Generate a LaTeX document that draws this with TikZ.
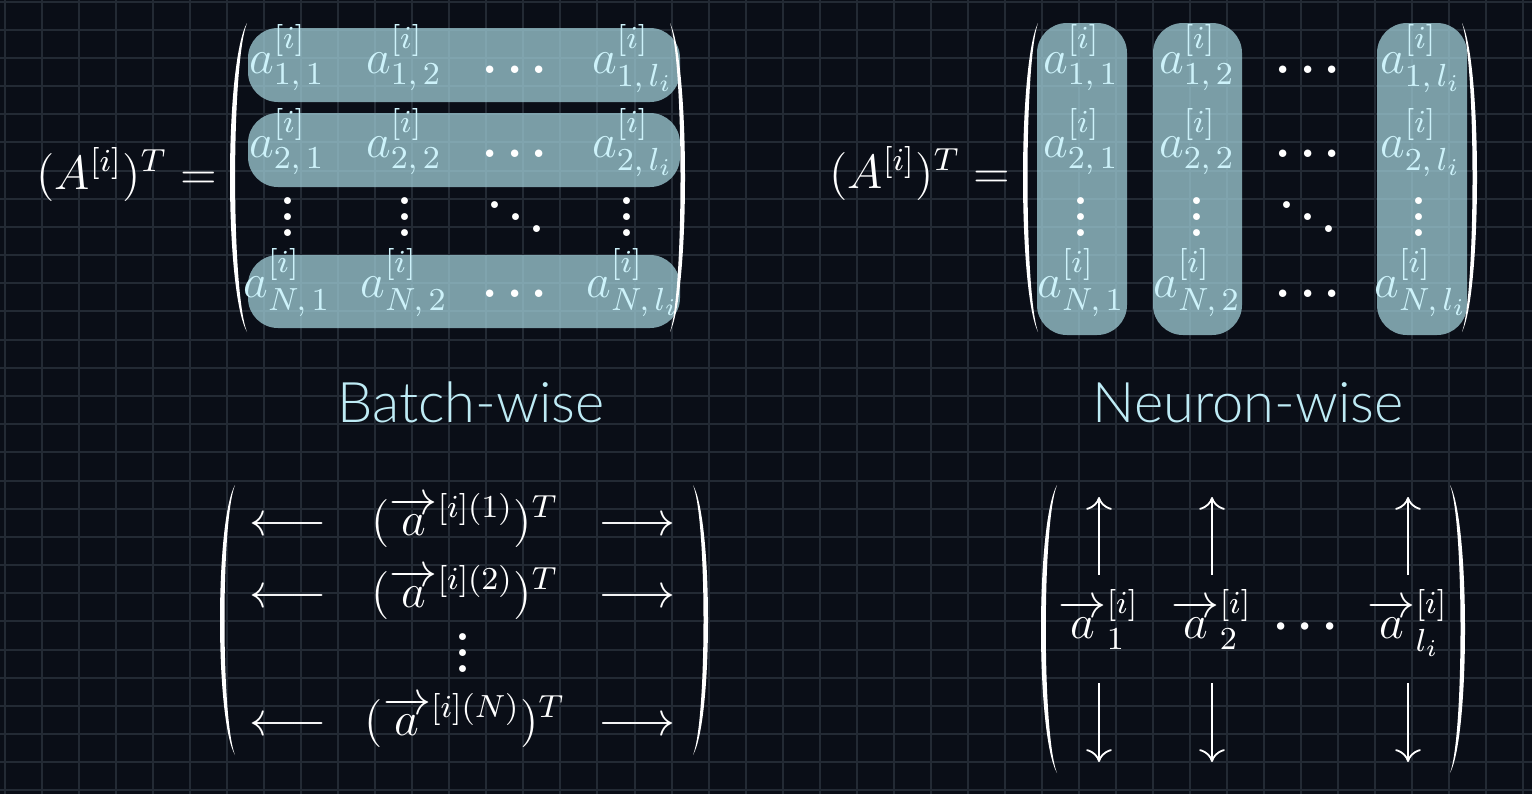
\documentclass[tikz,border=0pt]{standalone}
\usepackage{amsmath, fontspec}
\newfontfamily\labelfont{Lato Light}
\usetikzlibrary{arrows.meta}
\definecolor{bgcol}{RGB}{10,14,23}
\definecolor{gridcol}{RGB}{35,42,52}
\definecolor{bandcol}{RGB}{160,205,215}
\definecolor{entrycol}{RGB}{205,242,250}
\definecolor{labelcol}{RGB}{190,235,245}
\tikzset{>={Computer Modern Rightarrow[length=3.2pt, width=6.4pt]}}
\tikzset{
  gridline/.style={draw=gridcol, line width=0.5pt},
  math/.style={text=white, inner sep=0pt, font=\fontsize{12}{14}\selectfont},
  entry/.style={math, text=entrycol, anchor=base},
  dotrow/.style={math, anchor=base, font=\fontsize{12}{14}\selectfont\bfseries\boldmath},
  band/.style={fill=bandcol, fill opacity=0.75, rounded corners=7.5pt},
  caption/.style={text=labelcol, inner sep=0pt, anchor=base, font=\labelfont\fontsize{14}{16}\selectfont},
  colarrow/.style={->, white, line width=0.45pt},
}
% #1 end x, #2 outer x, #3 top y, #4 bottom y
\newcommand{\parenshape}[4]{%
  \fill[white] (#1,#3)
    .. controls ({(4*#2-#1)/3},{#3+0.13*(#4-#3)}) and ({(4*#2-#1)/3},{#4-0.13*(#4-#3)}) .. (#1,#4)
    .. controls ({(4*(0.7*#2+0.3*#1)-#1)/3},{#4-0.13*(#4-#3)}) and ({(4*(0.7*#2+0.3*#1)-#1)/3},{#3+0.13*(#4-#3)}) .. cycle;}

\begin{document}
\begin{tikzpicture}[x=0.25pt, y=-0.25pt]
\useasboundingbox (0,0) rectangle (1532,794);
\fill[bgcol] (0,0) rectangle (1532,794);
\foreach \i in {0,...,41} \draw[gridline] ({5+37.03*\i},0) -- ++(0,794);
\foreach \j in {0,...,28} \draw[gridline] (0,{1.6+28.17*\j}) -- ++(1532,0);

% batch-wise
\foreach \ya/\yb in {28/102, 113/187, 255/328} \fill[band] (248,\ya) rectangle (680,\yb);
\parenshape{247}{230}{23}{332}
\parenshape{670}{685}{23}{332}
\node[math, anchor=base] (lhs-b) at (127,189) {$(A^{[i]})^T =$};
\foreach \r/\y in {1/73, 2/157, N/297} {
  \foreach \c/\k/\x in {1/1/287, 2/2/404, l_i/l/633}
    \node[entry] (bw-\r-\k) at (\x,\y) {$a^{[i]}_{\r,\,\c}$};
  \node[dotrow] (bw-\r-d) at (515,\y) {$\ldots$};
}
\foreach \k/\x in {1/288, 2/405, l/627} \node[dotrow] (bw-v-\k) at (\x,236) {$\vdots$};
\node[dotrow] (bw-dd) at (516,236) {$\ddots$};

% neuron-wise
\foreach \xa/\xb in {1037/1127, 1153/1242, 1377/1467} \fill[band] (\xa,23) rectangle (\xb,335);
\parenshape{1038}{1023}{23}{332}
\parenshape{1462}{1477}{23}{332}
\node[math, anchor=base] (lhs-n) at (920,188) {$(A^{[i]})^T =$};
\foreach \r/\y in {1/73, 2/157, N/297} {
  \foreach \c/\k/\x in {1/1/1081, 2/2/1197, l_i/l/1421}
    \node[entry] (nw-\r-\k) at (\x,\y) {$a^{[i]}_{\r,\,\c}$};
  \node[dotrow] (nw-\r-d) at (1308,\y) {$\ldots$};
}
\foreach \k/\x in {1/1081, 2/1197, l/1419} \node[dotrow] (nw-v-\k) at (\x,236) {$\vdots$};
\node[dotrow] (nw-dd) at (1308,236) {$\ddots$};

\node[caption] (cap-b) at (471,422) {Batch-wise};
\node[caption] (cap-n) at (1248,422) {Neuron-wise};

% rows as vectors
\parenshape{235}{220}{485}{755}
\parenshape{693}{708}{485}{755}
\foreach \r/\y in {1/535, 2/607, N/735} {
  \node[math, anchor=base] (rv-\r-l) at (288,\y) {$\longleftarrow$};
  \node[math, anchor=base] (rv-\r) at (465,\y) {$(\overrightarrow{a}^{[i](\r)})^T$};
  \node[math, anchor=base] (rv-\r-r) at (637,\y) {$\longrightarrow$};
}
\node[dotrow] (rv-v) at (463,672) {$\vdots$};

% columns as vectors
\parenshape{1057}{1041}{485}{773}
\parenshape{1450}{1465}{485}{773}
\foreach \c/\k/\x in {1/1/1099, 2/2/1212, l_i/l/1408} {
  \node[math, anchor=base] (cv-\k) at (\x,638) {$\overrightarrow{a}^{[i]}_{\c}$};
  \coordinate (cv-\k-ua) at (\x,575);
  \coordinate (cv-\k-ub) at (\x,497);
  \coordinate (cv-\k-da) at (\x,683);
  \coordinate (cv-\k-db) at (\x,762);
  \draw[colarrow] (cv-\k-ua) -- (cv-\k-ub);
  \draw[colarrow] (cv-\k-da) -- (cv-\k-db);
}
\node[dotrow] (cv-d) at (1310,638) {$\cdots$};
\end{tikzpicture}
\end{document}
